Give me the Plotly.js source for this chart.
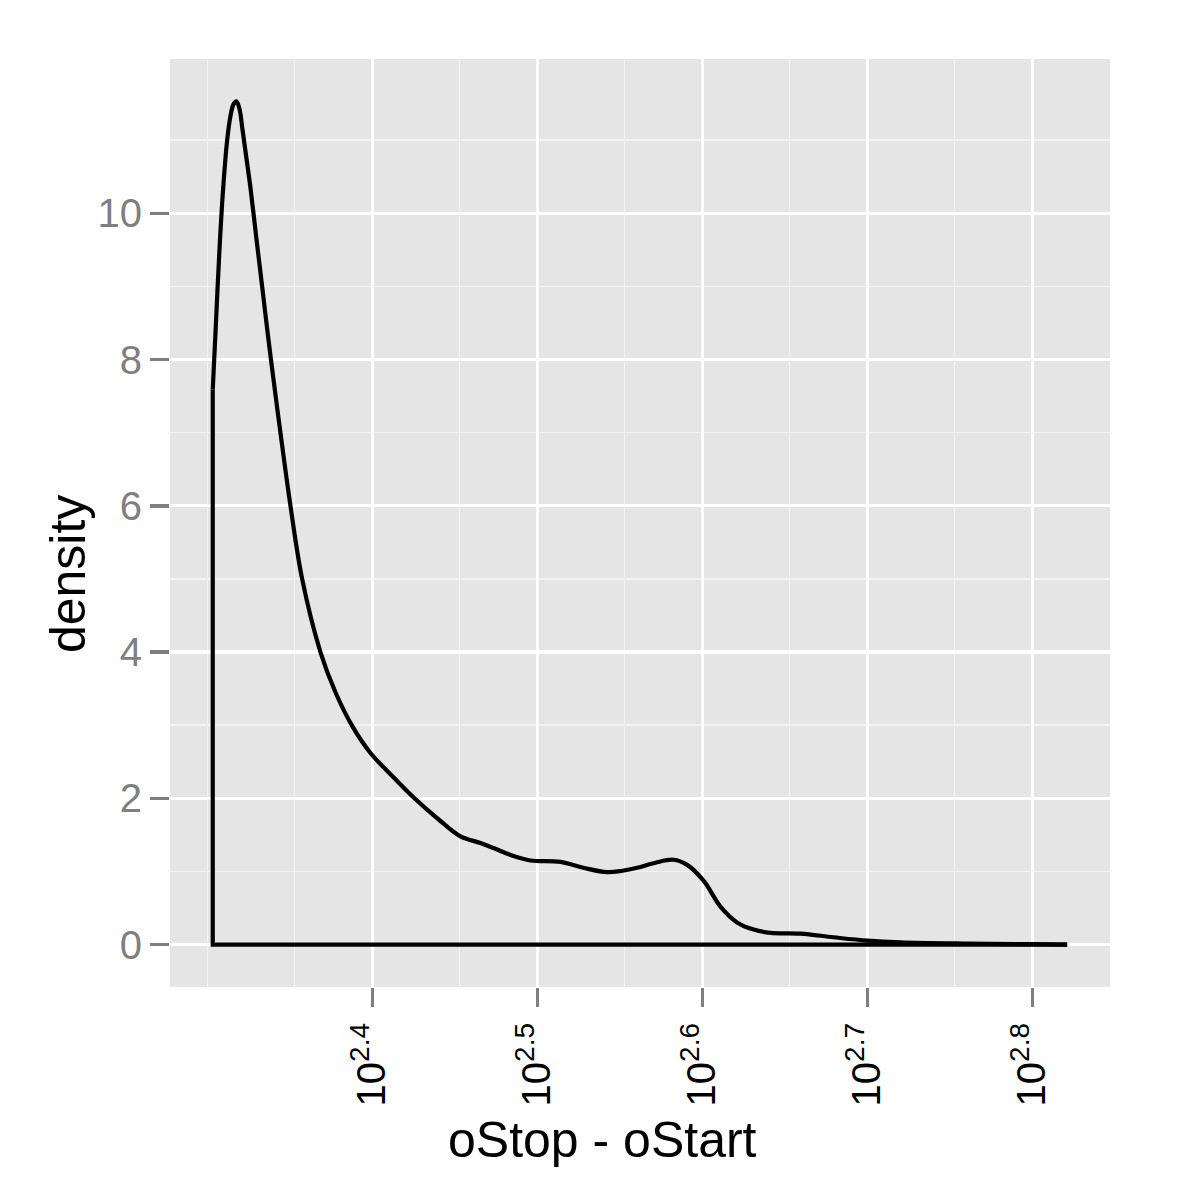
<!DOCTYPE html>
<html>
<head>
<meta charset="utf-8">
<script src="https://cdn.plot.ly/plotly-3.0.1.min.js"></script>
<style>
html, body { margin: 0; padding: 0; background: #ffffff; }
#chart { width: 1200px; height: 1200px; }
</style>
</head>
<body>
<div id="chart"></div>
<script>
// log10(oStop - oStart) positions of the density curve
var logX = [2.30321, 2.30515, 2.30727, 2.30939, 2.31194, 2.31394, 2.31576, 2.31758, 2.31939,
            2.32121, 2.32303, 2.32606, 2.32970, 2.33315, 2.33576, 2.33848, 2.34424, 2.35030,
            2.35739, 2.36848, 2.37758, 2.38770, 2.39879, 2.41091, 2.42545, 2.44121, 2.45333,
            2.46545, 2.47333, 2.48545, 2.49576, 2.51394, 2.52788, 2.54224, 2.55152, 2.56042,
            2.57152, 2.58242, 2.59073, 2.60079, 2.61091, 2.62121, 2.63109, 2.64121, 2.65939,
            2.67939, 2.69982, 2.72000, 2.76042, 2.80061, 2.82103];
// density values
var density = [7.59, 8.5, 9.5, 10.3, 11.0, 11.33, 11.49, 11.53, 11.43,
               11.15, 10.85, 10.35, 9.65, 9.0, 8.5, 8.0, 7.0, 6.0,
               5.0, 4.0, 3.45, 2.99, 2.62, 2.33, 2.0, 1.69, 1.48,
               1.39, 1.32, 1.21, 1.15, 1.13, 1.05, 0.99, 1.01, 1.05,
               1.12, 1.16, 1.09, 0.87, 0.52, 0.30, 0.205, 0.16, 0.15,
               0.10, 0.055, 0.03, 0.013, 0.005, 0.0];
// x tick exponents and labels
var xTickExp = [2.4, 2.5, 2.6, 2.7, 2.8];
var xTickText = ['10<sup>2.4</sup>', '10<sup>2.5</sup>', '10<sup>2.6</sup>', '10<sup>2.7</sup>', '10<sup>2.8</sup>'];
var yTicks = [0, 2, 4, 6, 8, 10];
var yMinor = [1, 3, 5, 7, 9, 11];

var xs = logX.map(function (v) { return Math.pow(10, v); });
var xTickVals = xTickExp.map(function (v) { return Math.pow(10, v); });
// minor grid: linear midpoints between breaks (ggplot style), plus the 10^2.3 break
var breaks = [Math.pow(10, 2.3)].concat(xTickVals);
var xMinor = [breaks[0]];
for (var i = 0; i < breaks.length - 1; i++) xMinor.push((breaks[i] + breaks[i + 1]) / 2);

var n = xs.length;
var baseTrace = {
  x: [xs[n - 1], xs[0], xs[0]],
  y: [0, 0, density[0]],
  mode: 'lines', type: 'scatter',
  line: { color: '#000000', width: 4.2, shape: 'linear' },
  hoverinfo: 'skip', showlegend: false
};
var curveTrace = {
  x: xs, y: density,
  mode: 'lines', type: 'scatter',
  line: { color: '#000000', width: 4.2, shape: 'spline', smoothing: 1 },
  showlegend: false
};

var font = 'Liberation Sans, Arial, Helvetica, sans-serif';
var layout = {
  width: 1200, height: 1200,
  margin: { l: 170, r: 90, t: 59, b: 213, pad: 0 },
  paper_bgcolor: '#ffffff',
  plot_bgcolor: '#E5E5E5',
  showlegend: false,
  font: { family: font },
  xaxis: {
    type: 'log',
    range: [2.2773, 2.8470],
    tickmode: 'array', tickvals: xTickVals, ticktext: xTickText,
    tickangle: -90,
    tickfont: { family: font, size: 40, color: '#000000' },
    ticks: 'outside', ticklen: 19, tickwidth: 3.5, tickcolor: '#7F7F7F',
    showgrid: true, gridcolor: '#FFFFFF', gridwidth: 3.2,
    minor: { tickmode: 'array', tickvals: xMinor, showgrid: true, gridcolor: '#F2F2F2', gridwidth: 1.6, ticks: '' },
    zeroline: false, showline: false, automargin: false
  },
  yaxis: {
    range: [-0.58, 12.11],
    tickmode: 'array', tickvals: yTicks,
    tickfont: { family: font, size: 40, color: '#7F7F7F' },
    ticks: 'outside', ticklen: 19, tickwidth: 3.5, tickcolor: '#7F7F7F',
    showgrid: true, gridcolor: '#FFFFFF', gridwidth: 3.2,
    minor: { tickmode: 'array', tickvals: yMinor, showgrid: true, gridcolor: '#F2F2F2', gridwidth: 1.6, ticks: '' },
    zeroline: false, showline: false, automargin: false
  },
  annotations: [
    { text: 'oStop - oStart', xref: 'paper', yref: 'paper', x: 0.4601, y: -0.1649,
      xanchor: 'center', yanchor: 'middle', showarrow: false,
      font: { family: font, size: 50, color: '#000000' } },
    { text: 'density', xref: 'paper', yref: 'paper', x: -0.1085, y: 0.445,
      xanchor: 'center', yanchor: 'middle', showarrow: false, textangle: -90,
      font: { family: font, size: 50, color: '#000000' } }
  ]
};

Plotly.newPlot('chart', [baseTrace, curveTrace], layout, { displayModeBar: false, staticPlot: true });
</script>
</body>
</html>
